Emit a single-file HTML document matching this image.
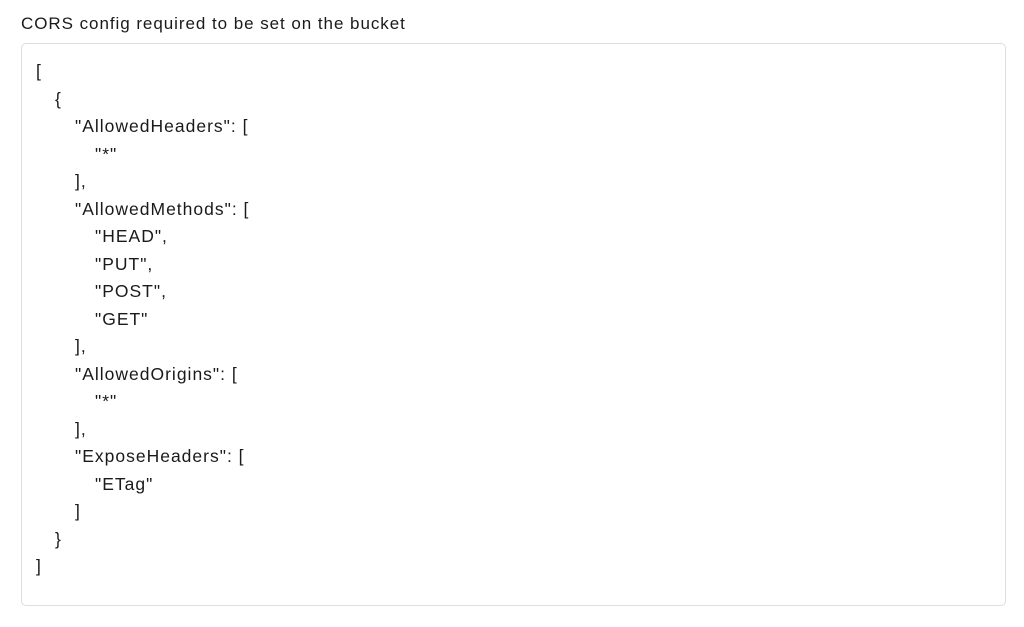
<!DOCTYPE html>
<html><head><style>
body{margin:0;width:1024px;height:627px;background:#fff;font-family:"Liberation Sans",sans-serif;color:#1a1a1a;position:relative;overflow:hidden}
.t{position:absolute;left:21px;top:14px;font-size:17px;letter-spacing:0.95px}
.box{position:absolute;left:21px;top:43px;width:985px;height:563px;border:1px solid #dcdee3;border-radius:5px;box-sizing:border-box}
.c{position:absolute;left:36px;top:58px;font-size:17.5px;line-height:27.5px;letter-spacing:1px}
.c div{height:27.5px;white-space:nowrap}
.l1{padding-left:19px}.l2{padding-left:39px}.l3{padding-left:59px}
</style></head><body>
<div class="t">CORS config required to be set on the bucket</div>
<div class="box"></div>
<div class="c"><div>[</div><div class="l1">{</div><div class="l2">"AllowedHeaders": [</div><div class="l3">"*"</div><div class="l2">],</div><div class="l2">"AllowedMethods": [</div><div class="l3">"HEAD",</div><div class="l3">"PUT",</div><div class="l3">"POST",</div><div class="l3">"GET"</div><div class="l2">],</div><div class="l2">"AllowedOrigins": [</div><div class="l3">"*"</div><div class="l2">],</div><div class="l2">"ExposeHeaders": [</div><div class="l3">"ETag"</div><div class="l2">]</div><div class="l1">}</div><div>]</div></div>
</body></html>
